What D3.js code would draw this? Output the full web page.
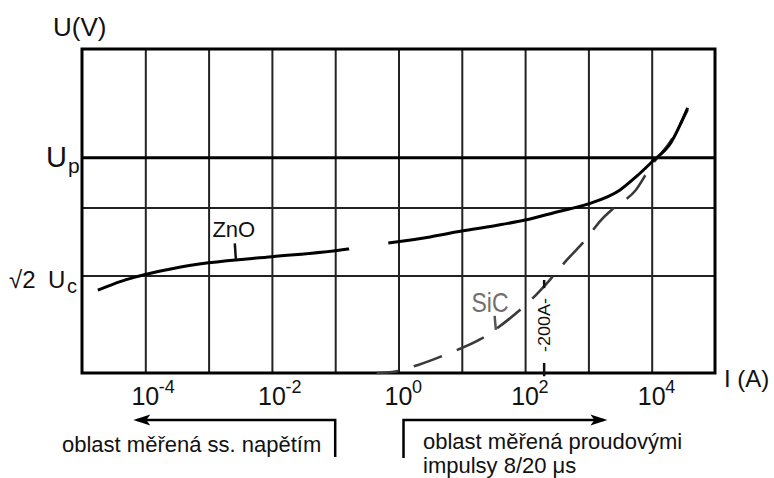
<!DOCTYPE html>
<html>
<head>
<meta charset="utf-8">
<script src="https://cdn.jsdelivr.net/npm/d3@7/dist/d3.min.js"></script>
<style>
  html, body { margin: 0; padding: 0; background: #fff; }
  svg { display: block; }
  text { font-family: "Liberation Sans", Arial, sans-serif; fill: #111; }
</style>
</head>
<body>
<svg id="chart" width="774" height="478"></svg>
<script>
// ---------------- DATA ----------------
const gridDecades = [1e-5, 1e-4, 1e-3, 1e-2, 1e-1, 1e0, 1e1, 1e2, 1e3, 1e4, 1e5];
const tickValues = [1e-4, 1e-2, 1e0, 1e2, 1e4];
const tickExponents = ["-4", "-2", "0", "2", "4"];

// voltage levels (relative units, 0..100 = full plot height)
const levelValues = [29.9, 50.9, 66.4];           // √2·Uc, helper line, Up
const levelIsUp = [false, false, true];

// ZnO characteristic (two solid segments)
const zno1I = [1.78e-5, 3e-5, 5e-5, 1e-4, 3.16e-4, 1e-3, 1e-2, 1e-1, 0.166];
const zno1U = [25.6, 27.3, 28.8, 30.4, 32.5, 34.0, 35.9, 37.7, 38.3];
const zno2I = [0.69, 3.16, 10, 31.6, 100, 316, 1000, 3162, 5623, 1e4, 2e4, 3.7e4];
const zno2U = [40.1, 42.0, 43.8, 45.4, 47.2, 49.7, 52.2, 56.5, 60.5, 65.1, 71.0, 81.8];

// SiC characteristic (dashed)
const sicI = [0.45, 0.8, 2.04, 6.46, 20, 53.7, 132, 245, 457, 891, 1585, 2512, 5623, 1e4, 2e4, 3.7e4];
const sicU = [0.0, 0.3, 2.5, 6.2, 10.5, 16.4, 23.1, 28.7, 34.9, 41.0, 47.2, 50.9, 56.5, 64.2, 71.6, 81.2];

// 200 A marker
const markerI = 200;
const markerLabel = "-200A-";

// ---------------- SCALES ----------------
const svg = d3.select("#chart");
const x = d3.scaleLog().domain([1e-5, 1e5]).range([82, 715]);
const y = d3.scaleLinear().domain([0, 100]).range([373, 49]);

const g = svg.append("g");

// vertical grid via axis
const gridAxis = d3.axisBottom(x).tickValues(gridDecades.slice(1, -1))
  .tickSize(-(y(0) - y(100))).tickFormat("");
g.append("g").attr("transform", `translate(0,${y(0)})`).call(gridAxis)
  .call(s => s.select(".domain").remove())
  .call(s => s.selectAll(".tick line").attr("stroke", "#222").attr("stroke-width", 2));

// horizontal level lines
g.selectAll("line.level").data(levelValues).join("line")
  .attr("x1", x(1e-5)).attr("x2", x(1e5))
  .attr("y1", d => y(d)).attr("y2", d => y(d))
  .attr("stroke", (d, i) => levelIsUp[i] ? "#000" : "#222")
  .attr("stroke-width", (d, i) => levelIsUp[i] ? 3 : 2);

// frame
g.append("rect").attr("x", x(1e-5)).attr("y", y(100))
  .attr("width", x(1e5) - x(1e-5)).attr("height", y(0) - y(100))
  .attr("fill", "none").attr("stroke", "#000").attr("stroke-width", 3);

// curves
const line = d3.line().x(d => x(d[0])).y(d => y(d[1])).curve(d3.curveMonotoneX);
g.append("path").datum(d3.zip(sicI, sicU)).attr("d", line)
  .attr("fill", "none").attr("stroke", "#3a3a3a").attr("stroke-width", 2.6)
  .attr("stroke-dasharray", "30,16").attr("stroke-dashoffset", 8);
g.append("path").datum(d3.zip(zno1I, zno1U)).attr("d", line)
  .attr("fill", "none").attr("stroke", "#000").attr("stroke-width", 3);
g.append("path").datum(d3.zip(zno2I, zno2U)).attr("d", line)
  .attr("fill", "none").attr("stroke", "#000").attr("stroke-width", 3);

// 200A marker
g.append("line").attr("x1", x(markerI)).attr("x2", x(markerI))
  .attr("y1", y(28.7)).attr("y2", y(26.2)).attr("stroke", "#111").attr("stroke-width", 2.5);
g.append("line").attr("x1", x(markerI)).attr("x2", x(markerI))
  .attr("y1", y(3.1)).attr("y2", y(-1.0)).attr("stroke", "#111").attr("stroke-width", 2.5);
g.append("text").attr("transform", `translate(${x(markerI) + 6},${y(14.8)}) rotate(-90)`)
  .attr("text-anchor", "middle").attr("font-size", 17)
  .attr("textLength", 54).attr("lengthAdjust", "spacingAndGlyphs").text(markerLabel);

// curve labels
g.append("text").attr("x", x(2.5e-3)).attr("y", y(42.0)).attr("text-anchor", "middle")
  .attr("font-size", 22).text("ZnO");
g.append("line").attr("x1", x(2.5e-3) + 1).attr("y1", y(40.0)).attr("x2", x(2.7e-3)).attr("y2", y(35.0))
  .attr("stroke", "#111").attr("stroke-width", 2.5);
g.append("text").attr("x", x(27.9)).attr("y", y(18.8)).attr("text-anchor", "middle")
  .attr("font-size", 28).attr("textLength", 37).attr("lengthAdjust", "spacingAndGlyphs")
  .style("fill", "#707070").text("SiC");
g.append("line").attr("x1", x(33.0)).attr("y1", y(17.6)).attr("x2", x(34.5)).attr("y2", y(13.3))
  .attr("stroke", "#555").attr("stroke-width", 2.5);

// x tick labels
const tl = g.selectAll("g.tl").data(tickValues).join("g").attr("class", "tl");
tl.append("text").attr("x", d => x(d)).attr("y", 405).attr("text-anchor", "middle")
  .attr("font-size", 25).text("10");
tl.append("text").attr("x", d => x(d) + 13.5).attr("y", 393).attr("font-size", 18)
  .text((d, i) => tickExponents[i]);

// axis titles
svg.append("text").attr("x", 53).attr("y", 36).attr("font-size", 26).text("U(V)");
svg.append("text").attr("x", 724).attr("y", 387).attr("font-size", 24).text("I (A)");

// level labels
const upY = y(levelValues[2]);
svg.append("text").attr("x", 46).attr("y", upY + 9).attr("font-size", 29).text("U");
svg.append("text").attr("x", 68).attr("y", upY + 15).attr("font-size", 21).text("p");
const ucY = y(levelValues[0]);
svg.append("text").attr("x", 9).attr("y", ucY + 12).attr("font-size", 24).text("√2");
svg.append("text").attr("x", 48).attr("y", ucY + 12).attr("font-size", 24).text("U");
svg.append("text").attr("x", 67).attr("y", ucY + 17).attr("font-size", 20).text("c");

// range arrows
const ar = svg.append("g").attr("stroke", "#000").attr("stroke-width", 2.5).attr("fill", "none");
ar.append("path").attr("d", `M${x(0.1)},457 V420 H${x(1e-4) - 8}`);
ar.append("path").attr("d", `M${x(1.2)},458 V420 H${x(1e3) + 15}`);
svg.append("path").attr("d", `M${x(1e-4) - 12},420 l17,-5.5 l-4,5.5 l4,5.5 z`).attr("fill", "#000");
svg.append("path").attr("d", `M${x(1e3) + 19},420 l-17,-5.5 l4,5.5 l-4,5.5 z`).attr("fill", "#000");

svg.append("text").attr("x", 62).attr("y", 452).attr("font-size", 22).text("oblast měřená ss. napětím");
svg.append("text").attr("x", 423).attr("y", 449).attr("font-size", 22).text("oblast měřená proudovými");
svg.append("text").attr("x", 423).attr("y", 473).attr("font-size", 22).text("impulsy 8/20 μs");
</script>
</body>
</html>
